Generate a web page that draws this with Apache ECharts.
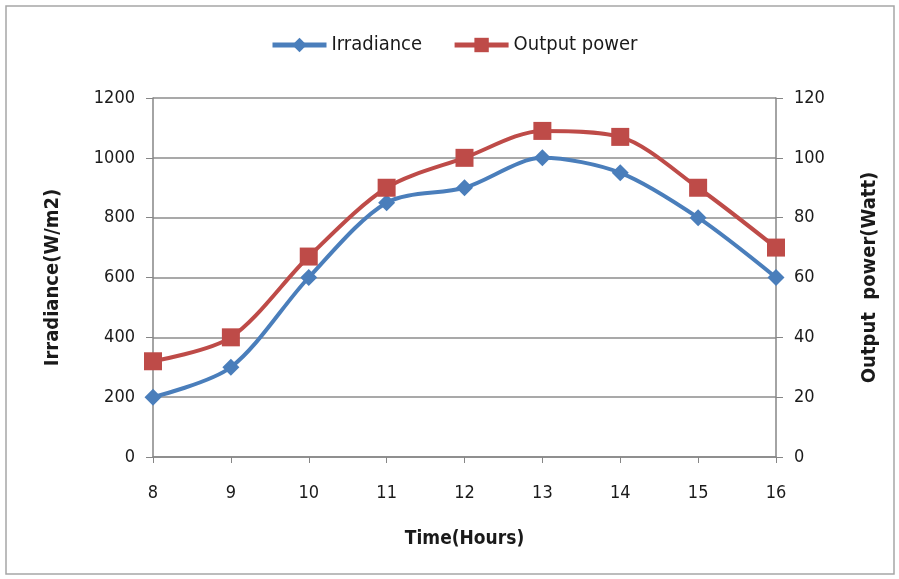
<!DOCTYPE html>
<html><head><meta charset="utf-8">
<script src="https://cdn.jsdelivr.net/npm/echarts@6/dist/echarts.min.js"></script>
<style>html,body{margin:0;padding:0;background:#fff}#c{width:899px;height:579px}</style>
</head><body><div id="c"></div>
<script>
const hours = ['8','9','10','11','12','13','14','15','16'];
const irradiance = [200, 300, 600, 850, 900, 1000, 950, 800, 600];
const outputPower = [32, 40, 67, 90, 100, 109, 107, 90, 70];
const leftTicks = [0, 200, 400, 600, 800, 1000, 1200];
const rightTicks = [0, 20, 40, 60, 80, 100, 120];

const FONT = '"Liberation Sans Narrow", "DejaVu Sans Condensed", "Liberation Sans", sans-serif';
const chart = echarts.init(document.getElementById('c'));
const axisCol = '#868686';
chart.setOption({
  animation: false,
  backgroundColor: '#fff',
  graphic: [{type:'rect', shape:{x:6,y:6,width:888,height:568}, style:{fill:'none', stroke:'#a6a6a6', lineWidth:1.5}, silent:true}],
  legend: {
    top: 30, left: 265,
    itemWidth: 54, itemHeight: 18, itemGap: 30,
    lineStyle: {width: 5},
    textStyle: {fontFamily: FONT, fontSize: 20, color: '#1a1a1a'},
    data: ['Irradiance', 'Output power']
  },
  grid: {left: 153, right: 123, top: 98, bottom: 122},
  xAxis: {
    type: 'category', data: hours, boundaryGap: false,
    name: 'Time(Hours)', nameLocation: 'middle', nameGap: 73,
    nameTextStyle: {fontFamily: FONT, fontSize: 19, fontWeight: 'bold', color: '#1a1a1a'},
    axisLine: {lineStyle: {color: axisCol, width: 1.5}},
    axisTick: {alignWithLabel: true, length: 6, lineStyle: {color: axisCol}},
    axisLabel: {fontFamily: FONT, fontSize: 18, color: '#1a1a1a', margin: 27},
    splitLine: {show: false}
  },
  yAxis: [{
    type: 'value', min: leftTicks[0], max: leftTicks[leftTicks.length-1], interval: leftTicks[1]-leftTicks[0],
    name: 'Irradiance(W/m2)', nameLocation: 'middle', nameGap: 90, nameRotate: 90,
    nameTextStyle: {fontFamily: FONT, fontSize: 20, fontWeight: 'bold', color: '#1a1a1a'},
    axisLine: {show: true, lineStyle: {color: axisCol, width: 1.5}},
    axisTick: {show: true, length: 7, lineStyle: {color: axisCol}},
    axisLabel: {fontFamily: FONT, fontSize: 18, color: '#1a1a1a', margin: 18, formatter: v => String(v)},
    splitLine: {show: true, lineStyle: {color: '#8c8c8c', width: 1.5}}
  }, {
    type: 'value', min: rightTicks[0], max: rightTicks[rightTicks.length-1], interval: rightTicks[1]-rightTicks[0],
    name: 'Output  power(Watt)', nameLocation: 'middle', nameGap: 84, nameRotate: 90,
    nameTextStyle: {fontFamily: FONT, fontSize: 20, fontWeight: 'bold', color: '#1a1a1a'},
    axisLine: {show: true, lineStyle: {color: axisCol, width: 1.5}},
    axisTick: {show: true, length: 7, lineStyle: {color: axisCol}},
    axisLabel: {fontFamily: FONT, fontSize: 18, color: '#1a1a1a', margin: 18, formatter: v => String(v)},
    splitLine: {show: false}
  }],
  series: [{
    name: 'Irradiance', type: 'line', yAxisIndex: 0, data: irradiance,
    smooth: 0.3, symbol: 'diamond', symbolSize: 17,
    lineStyle: {color: '#4A7EBB', width: 4},
    itemStyle: {color: '#4A7EBB'}
  }, {
    name: 'Output power', type: 'line', yAxisIndex: 1, data: outputPower,
    smooth: 0.3, symbol: 'rect', symbolSize: 18,
    lineStyle: {color: '#BE4B48', width: 4},
    itemStyle: {color: '#BE4B48'}
  }]
});
</script></body></html>
